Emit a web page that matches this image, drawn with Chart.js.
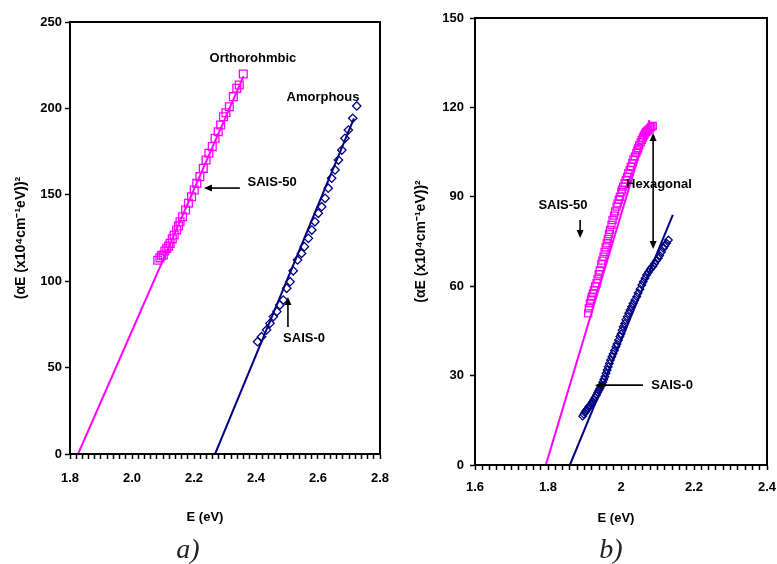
<!DOCTYPE html>
<html>
<head>
<meta charset="utf-8">
<script src="https://cdn.jsdelivr.net/npm/chart.js@4.4.1/dist/chart.umd.min.js"></script>
<style>
  body { margin: 0; background: #fff; width: 777px; height: 564px; overflow: hidden; position: relative; }
  canvas { position: absolute; top: 0; }
  #chartA { left: 0; }
  #chartB { left: 390px; }
  .cap { position: absolute; font-family: "Liberation Serif", "Times New Roman", serif; font-style: italic; font-size: 28px; color: #222; transform: translate(-50%, -50%); }
</style>
</head>
<body>
<canvas id="chartA" width="390" height="540"></canvas>
<canvas id="chartB" width="387" height="540"></canvas>
<div class="cap" style="left:188px;top:549px">a)</div>
<div class="cap" style="left:611px;top:549px">b)</div>

<script>
// ---- panel a : SAIS-50 (squares) ----
const eA50 = [2.083, 2.090, 2.095, 2.101, 2.106, 2.112, 2.118, 2.123, 2.130, 2.136, 2.144, 2.150, 2.155, 2.163, 2.173,
              2.182, 2.192, 2.201, 2.209, 2.219, 2.230, 2.239, 2.248, 2.259, 2.268, 2.278, 2.286, 2.295, 2.303, 2.314,
              2.327, 2.338, 2.346, 2.359];
const yA50 = [112.1, 113.5, 114.8, 115.2, 117.5, 119.0, 120.3, 121.9, 124.5, 126.7, 129.6, 132.0, 134.4, 137.3, 141.2,
              145.1, 148.9, 152.8, 156.6, 160.5, 165.3, 170.1, 174.0, 177.9, 182.7, 186.5, 190.4, 195.2, 197.5, 201.0,
              206.8, 211.6, 213.5, 219.9];
// ---- panel a : SAIS-0 (diamonds) ----
const eA0 = [2.405, 2.418, 2.434, 2.445, 2.456, 2.467, 2.477, 2.488, 2.499, 2.510, 2.520, 2.534, 2.547, 2.556, 2.569,
             2.580, 2.590, 2.601, 2.612, 2.623, 2.633, 2.644, 2.655, 2.666, 2.677, 2.687, 2.698, 2.712, 2.725];
const yA0 = [65.0, 67.9, 71.8, 75.6, 79.5, 82.4, 86.2, 89.1, 95.9, 99.7, 106.0, 112.3, 116.1, 120.0, 124.8,
             129.6, 134.4, 139.3, 143.1, 148.0, 153.8, 159.6, 164.4, 170.1, 175.9, 182.7, 187.5, 194.3, 201.4];
// fit lines (end points)
const fitA50E = [1.826, 2.360], fitA50Y = [0, 218.7];
const fitA0E = [2.268, 2.716], fitA0Y = [0, 194.2];

// ---- panel b : SAIS-50 (squares) ----
const eB50 = [1.910, 1.912, 1.915, 1.918, 1.920, 1.923, 1.926, 1.929, 1.933, 1.936, 1.939, 1.942, 1.946, 1.949, 1.952,
              1.955, 1.958, 1.961, 1.964, 1.967, 1.970, 1.974, 1.977, 1.981, 1.984, 1.988, 1.991, 1.994, 1.997, 2.001,
              2.003, 2.006, 2.010, 2.013, 2.017, 2.020, 2.024, 2.027, 2.031, 2.034, 2.038, 2.042, 2.045, 2.047, 2.050,
              2.054, 2.057, 2.060, 2.063, 2.066, 2.069, 2.072, 2.075, 2.079, 2.083, 2.087];
const yB50 = [50.9, 52.6, 54.3, 55.5, 56.5, 57.6, 58.7, 59.9, 61.0, 62.4, 64.0, 65.3, 67.4, 68.6, 69.9,
              71.5, 73.0, 74.4, 75.9, 77.5, 78.9, 80.6, 82.2, 83.7, 85.1, 86.7, 87.8, 89.0, 90.0, 91.6,
              92.4, 93.4, 94.6, 95.7, 96.7, 97.9, 99.0, 100.1, 101.3, 102.5, 103.5, 104.7, 105.6, 106.3, 107.3,
              108.3, 109.1, 109.9, 110.6, 111.3, 111.8, 112.1, 112.4, 112.9, 113.4, 113.8];
// ---- panel b : SAIS-0 (diamonds) ----
const eB0 = [1.895, 1.898, 1.901, 1.904, 1.906, 1.909, 1.912, 1.915, 1.918, 1.920, 1.923, 1.926, 1.929, 1.933, 1.936,
             1.939, 1.942, 1.945, 1.947, 1.950, 1.953, 1.956, 1.959, 1.962, 1.965, 1.968, 1.971, 1.975, 1.978, 1.982,
             1.986, 1.989, 1.993, 1.997, 2.000, 2.003, 2.006, 2.010, 2.013, 2.017, 2.021, 2.025, 2.029, 2.033, 2.038,
             2.043, 2.047, 2.052, 2.057, 2.061, 2.066, 2.070, 2.075, 2.080, 2.084, 2.088, 2.092, 2.097, 2.102, 2.106,
             2.111, 2.116, 2.120, 2.125, 2.130];
const yB0 = [16.4, 17.0, 17.6, 18.1, 18.5, 19.0, 19.6, 20.0, 20.4, 20.7, 21.3, 22.0, 22.7, 23.5, 24.3,
             25.0, 25.7, 26.4, 26.8, 27.8, 28.7, 29.6, 30.8, 31.9, 33.0, 34.1, 35.2, 36.3, 37.3, 38.4,
             39.7, 40.6, 41.9, 43.1, 44.0, 45.2, 46.4, 47.5, 48.7, 49.8, 50.9, 52.0, 53.1, 54.2, 55.4,
             56.5, 57.7, 59.0, 60.4, 61.5, 62.7, 63.8, 64.7, 65.6, 66.3, 66.8, 67.6, 68.5, 69.4, 70.3,
             71.5, 72.7, 73.5, 74.4, 75.5];
const fitB50E = [1.794, 2.078], fitB50Y = [0, 115.8];
const fitB0E = [1.860, 2.142], fitB0Y = [0, 83.9];

const yTitle = '(\u03b1E (x10\u2074cm\u207b\u00b9eV))\u00b2';
const xTitle = 'E (eV)';
const MAGENTA = '#ff00ff';
const NAVY = '#000080';
const FONT = '"Liberation Sans", Arial, sans-serif';

const pts = (xs, ys) => xs.map((x, i) => ({ x, y: ys[i] }));

// text labels and arrows in data coordinates
const notesA = {
  texts: [
    { t: 'Orthorohmbic', x: 2.390, y: 229.2 },
    { t: 'Amorphous', x: 2.616, y: 206.6 },
    { t: 'SAIS-50', x: 2.452, y: 157.4 },
    { t: 'SAIS-0', x: 2.555, y: 67.1 }
  ],
  arrows: [
    { x0: 2.348, y0: 153.9, x1: 2.232, y1: 153.9 },
    { x0: 2.503, y0: 73.5, x1: 2.503, y1: 90.9 }
  ]
};
const notesB = {
  texts: [
    { t: 'Hexagonal', x: 2.104, y: 94.3 },
    { t: 'SAIS-50', x: 1.841, y: 87.2 },
    { t: 'SAIS-0', x: 2.140, y: 26.8 }
  ],
  arrows: [
    { x0: 2.088, y0: 92, x1: 2.088, y1: 111.4 },
    { x0: 2.088, y0: 92, x1: 2.088, y1: 72.5 },
    { x0: 1.888, y0: 82.2, x1: 1.888, y1: 76.2 },
    { x0: 2.060, y0: 26.8, x1: 1.929, y1: 26.8 }
  ]
};

function notesPlugin(notes, titlePos) {
  return {
    id: 'notes',
    afterDraw(chart) {
      const { ctx, chartArea: a, scales: { x, y } } = chart;
      ctx.save();
      // full frame box
      ctx.strokeStyle = '#000';
      ctx.lineWidth = 2;
      ctx.strokeRect(a.left, a.top, a.right - a.left, a.bottom - a.top);
      // arrows
      ctx.lineWidth = 1.6;
      ctx.fillStyle = '#000';
      notes.arrows.forEach(ar => {
        const x0 = x.getPixelForValue(ar.x0), y0 = y.getPixelForValue(ar.y0);
        const x1 = x.getPixelForValue(ar.x1), y1 = y.getPixelForValue(ar.y1);
        const ang = Math.atan2(y1 - y0, x1 - x0);
        ctx.beginPath();
        ctx.moveTo(x0, y0);
        ctx.lineTo(x1 - 5 * Math.cos(ang), y1 - 5 * Math.sin(ang));
        ctx.stroke();
        ctx.beginPath();
        ctx.moveTo(x1, y1);
        ctx.lineTo(x1 - 8 * Math.cos(ang) + 3.5 * Math.sin(ang), y1 - 8 * Math.sin(ang) - 3.5 * Math.cos(ang));
        ctx.lineTo(x1 - 8 * Math.cos(ang) - 3.5 * Math.sin(ang), y1 - 8 * Math.sin(ang) + 3.5 * Math.cos(ang));
        ctx.closePath();
        ctx.fill();
      });
      // texts
      ctx.font = 'bold 13px ' + FONT;
      ctx.textAlign = 'center';
      ctx.textBaseline = 'middle';
      notes.texts.forEach(n => {
        ctx.fillText(n.t, x.getPixelForValue(n.x), y.getPixelForValue(n.y));
      });
      // x axis title (sits a bit left of the plot centre in the original)
      ctx.fillText(xTitle, titlePos.x, titlePos.y);
      ctx.restore();
    }
  };
}

function makeChart(id, cfg) {
  const tickFont = { family: FONT, size: 13, weight: 'bold' };
  const titleFont = { family: FONT, size: 14, weight: 'bold' };
  return new Chart(document.getElementById(id), {
    type: 'scatter',
    data: {
      datasets: [
        { data: pts(cfg.e50, cfg.y50), pointStyle: 'rect', pointRadius: cfg.sq, borderColor: MAGENTA,
          backgroundColor: 'rgba(0,0,0,0)', borderWidth: 1.3, showLine: false },
        { data: pts(cfg.e0, cfg.y0), pointStyle: 'rectRot', pointRadius: cfg.dm, borderColor: NAVY,
          backgroundColor: 'rgba(0,0,0,0)', borderWidth: 1.3, showLine: false },
        { data: pts(cfg.f50E, cfg.f50Y), showLine: true, pointRadius: 0, borderColor: MAGENTA, borderWidth: 2 },
        { data: pts(cfg.f0E, cfg.f0Y), showLine: true, pointRadius: 0, borderColor: NAVY, borderWidth: 2 }
      ]
    },
    options: {
      responsive: false,
      animation: false,
      events: [],
      layout: { padding: { left: 0, top: cfg.top, right: 10, bottom: 0 } },
      plugins: { legend: { display: false }, tooltip: { enabled: false } },
      scales: {
        x: {
          type: 'linear', min: cfg.xMin, max: cfg.xMax,
          afterFit: s => { s.height = cfg.xH; s.paddingLeft = 0; s.paddingRight = 0; },
          border: { color: '#000', width: 2 },
          grid: { drawOnChartArea: false, drawTicks: true, tickLength: 5, tickColor: '#000', tickWidth: 1.5 },
          ticks: {
            stepSize: 0.02, autoSkip: false, maxRotation: 0, color: '#000', font: tickFont, padding: cfg.xPad,
            callback: v => {
              const k = Math.round(v * 100);
              return k % 20 === 0 ? cfg.fmt(k / 100) : '';
            }
          },
          title: { display: false }
        },
        y: {
          type: 'linear', min: 0, max: cfg.yMax,
          afterFit: s => { s.width = cfg.yW; },
          border: { color: '#000', width: 2 },
          grid: { drawOnChartArea: false, drawTicks: true, tickLength: 5, tickColor: '#000', tickWidth: 1.5 },
          ticks: { stepSize: cfg.yStep, color: '#000', font: tickFont, padding: cfg.yPad },
          title: { display: true, text: yTitle, color: '#000', font: titleFont, padding: { top: cfg.yTitlePad, bottom: 0 } }
        }
      }
    },
    plugins: [notesPlugin(cfg.notes, cfg.xTitlePos)]
  });
}

makeChart('chartA', {
  e50: eA50, y50: yA50, e0: eA0, y0: yA0,
  f50E: fitA50E, f50Y: fitA50Y, f0E: fitA0E, f0Y: fitA0Y,
  sq: 5.5, dm: 4.2,
  xMin: 1.8, xMax: 2.8, yMax: 250, yStep: 50,
  top: 22, xH: 86, yW: 70, xPad: 12, yPad: 3, yTitlePad: 13,
  xTitlePos: { x: 205, y: 517 },
  fmt: v => v.toFixed(1),
  notes: notesA
});

makeChart('chartB', {
  e50: eB50, y50: yB50, e0: eB0, y0: yB0,
  f50E: fitB50E, f50Y: fitB50Y, f0E: fitB0E, f0Y: fitB0Y,
  sq: 5, dm: 3.8,
  xMin: 1.6, xMax: 2.4, yMax: 150, yStep: 30,
  top: 18, xH: 75, yW: 85, xPad: 10, yPad: 6, yTitlePad: 23,
  xTitlePos: { x: 226, y: 518 },
  fmt: v => String(v),
  notes: notesB
});
</script>
</body>
</html>
